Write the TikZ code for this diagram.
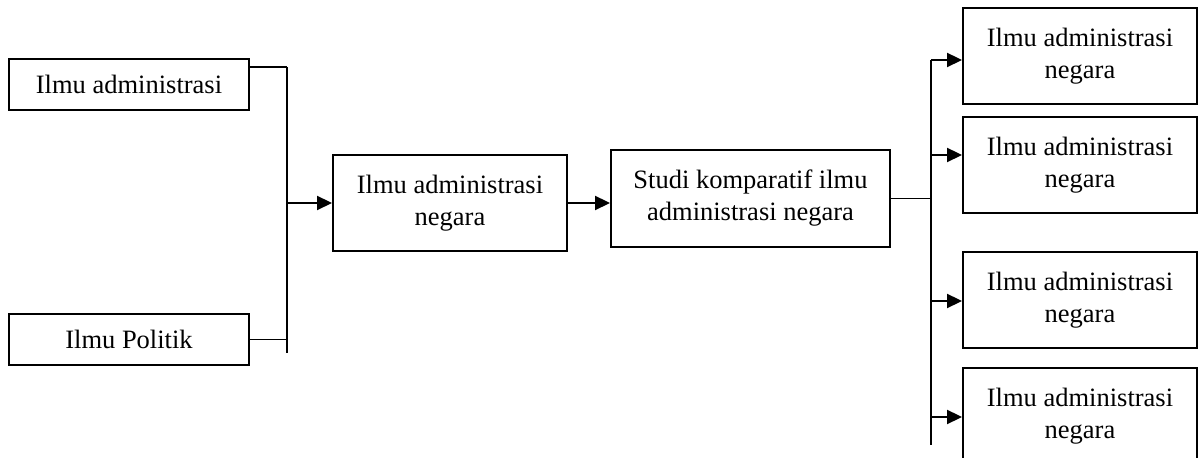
\documentclass[tikz,border=0pt]{standalone}
\usepackage{fontspec}
\setmainfont{Liberation Serif}
\usetikzlibrary{arrows.meta}
\begin{document}
\begin{tikzpicture}[x=0.5pt,y=-0.5pt,
  box/.style={draw,line width=1pt,inner sep=0pt,align=center,font=\fontsize{13.25}{16}\selectfont},
  smallbox/.style={box,minimum width=120pt,minimum height=25.5pt},
  bigbox/.style={box,minimum width=117pt,minimum height=48pt},
  conn/.style={line width=0.9pt},
  thin/.style={line width=0.6pt},
  arr/.style={line width=1.1pt,-{Triangle[length=7.5pt,width=7pt]}}]
\useasboundingbox (0,0) rectangle (1198,458);
\node[smallbox] (b1) at (129,84.5) {Ilmu administrasi};
\node[smallbox] (b2) at (129,339.5) {Ilmu Politik};
\node[bigbox] (m) at (450,203) {Ilmu administrasi\\negara};
\node[box,minimum width=139.5pt,minimum height=48.5pt] (s) at (750.5,198.5) {Studi komparatif ilmu\\administrasi negara};
\node[bigbox] (r1) at (1080,56) {Ilmu administrasi\\negara};
\node[bigbox] (r2) at (1080,165) {Ilmu administrasi\\negara};
\node[bigbox] (r3) at (1080,300) {Ilmu administrasi\\negara};
\node[bigbox] (r4) at (1080,416) {Ilmu administrasi\\negara};
% left bracket
\coordinate (vt) at (287,67);
\coordinate (vb) at (287,353);
\draw[conn] (vt) -- (vb);
\draw[conn] (b1.east |- vt) -- (vt);
\draw[conn] (b2.east) -- (b2.east -| vt);
\draw[arr] (m.west -| vt) -- (m.west);
\draw[arr] (m.east) -- (m.east -| s.west);
% right bracket
\coordinate (rt) at (931,60);
\coordinate (rb) at (931,445);
\draw[conn] (rt) -- (rb);
\draw[thin] (s.east) -- (s.east -| rt);
\coordinate (a1) at (931,60);
\coordinate (a2) at (931,155);
\coordinate (a3) at (931,301);
\coordinate (a4) at (931,417);
\draw[arr] (a1) -- (a1 -| r1.west);
\draw[arr] (a2) -- (a2 -| r2.west);
\draw[arr] (a3) -- (a3 -| r3.west);
\draw[arr] (a4) -- (a4 -| r4.west);
\end{tikzpicture}
\end{document}
